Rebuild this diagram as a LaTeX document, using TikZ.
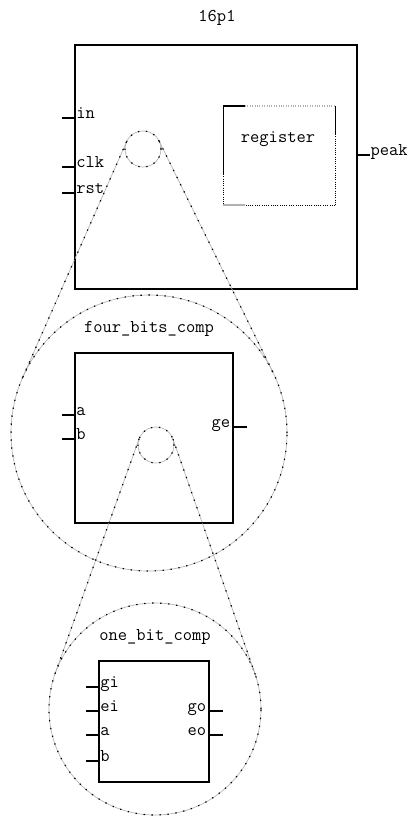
\documentclass[tikz,border=0pt]{standalone}
\usepackage{fontspec}
\begin{document}
\begin{tikzpicture}[x=0.75pt,y=-0.75pt,
  box/.style={draw=black,line width=1.5pt},
  stub/.style={draw=black,line width=1.5pt},
  lbl/.style={inner sep=0pt,font=\ttfamily\fontsize{13.5}{15}\selectfont},
  ttl/.style={inner sep=0pt,font=\ttfamily\fontsize{13.5}{15}\selectfont},
  zring/.style={circle,inner sep=0pt,outer sep=0pt,draw=gray!60,line width=0.5pt,
     postaction={draw=black,line width=0.9pt,dash pattern=on 1pt off 5pt}},
  zline/.style={draw=gray!60,line width=0.5pt,
     postaction={draw=black,line width=0.9pt,dash pattern=on 1pt off 5pt}}]
\useasboundingbox (0,0) rectangle (409,821);

% ---------- top level 16p1 ----------
\node[ttl] (t1) at (217,18) {16p1};
\draw[box] (75,45) rectangle (357,289);
\coordinate (pin) at (75,118);
\coordinate (pclk) at (75,167);
\coordinate (prst) at (75,193);
\coordinate (ppeak) at (357,155);
\draw[stub] (pin) -- ++(-13,0);
\draw[stub] (pclk) -- ++(-13,0);
\draw[stub] (prst) -- ++(-13,0);
\draw[stub] (ppeak) -- ++(13,0);
\node[lbl,anchor=base west] (lin) at ([xshift=0.75pt]pin) {in};
\node[lbl,anchor=base west] (lclk) at ([xshift=0.75pt]pclk) {clk};
\node[lbl,anchor=base west] (lrst) at ([xshift=0.75pt]prst) {rst};
\node[lbl,anchor=base west] (lpeak) at ([xshift=10pt]ppeak) {peak};

% register box (partly dotted)
\draw[black,line width=0.9pt] (223,106) -- (245,106);
\draw[gray!60,line width=0.8pt,densely dotted] (245,106) -- (335,106);
\draw[black,line width=0.7pt] (335,106) -- (335,134);
\draw[black,line width=0.7pt,densely dotted] (335,134) -- (335,205);
\draw[black,line width=0.7pt,densely dotted] (335,205) -- (245,205);
\draw[gray!60,line width=0.8pt] (245,205) -- (223,205);
\draw[black,line width=0.7pt] (223,106) -- (223,174);
\draw[black,line width=0.7pt,densely dotted] (223,174) -- (223,205);
\node[lbl] (reg) at (278,139) {register};

% ---------- zoom 1 ----------
\node[zring,minimum size=27pt] (s1) at (143,149) {};
\node[zring,minimum size=207pt] (b1) at (149,433) {};
\draw[zline] (s1.156) -- (b1.156);
\draw[zline] (s1.26) -- (b1.26);

% ---------- four_bits_comp ----------
\node[ttl] (t2) at (149,329) {four\_bits\_comp};
\draw[box] (75,353) rectangle (233,523);
\coordinate (pa) at (75,415);
\coordinate (pb) at (75,439);
\coordinate (pge) at (233,427);
\draw[stub] (pa) -- ++(-13,0);
\draw[stub] (pb) -- ++(-13,0);
\draw[stub] (pge) -- ++(14,0);
\node[lbl,anchor=base west] (la) at ([xshift=0.75pt]pa) {a};
\node[lbl,anchor=base west] (lb) at ([xshift=0.75pt]pb) {b};
\node[lbl,anchor=base east] (lge) at ([xshift=-2pt]pge) {ge};

% ---------- zoom 2 ----------
\node[zring,minimum size=27pt] (s2) at (156,445) {};
\node[zring,minimum size=159pt] (b2) at (155,709) {};
\draw[zline] (s2.160) -- (b2.160);
\draw[zline] (s2.19) -- (b2.19);

% ---------- one_bit_comp ----------
\node[ttl] (t3) at (155,637) {one\_bit\_comp};
\draw[box] (99,661) rectangle (209,782);
\coordinate (qgi) at (99,687);
\coordinate (qei) at (99,711);
\coordinate (qa) at (99,735);
\coordinate (qb) at (99,761);
\coordinate (qgo) at (209,711);
\coordinate (qeo) at (209,735);
\draw[stub] (qgi) -- ++(-13,0);
\draw[stub] (qei) -- ++(-13,0);
\draw[stub] (qa) -- ++(-13,0);
\draw[stub] (qb) -- ++(-13,0);
\draw[stub] (qgo) -- ++(14,0);
\draw[stub] (qeo) -- ++(14,0);
\node[lbl,anchor=base west] (lgi) at ([xshift=0.75pt]qgi) {gi};
\node[lbl,anchor=base west] (lei) at ([xshift=0.75pt]qei) {ei};
\node[lbl,anchor=base west] (lqa) at ([xshift=0.75pt]qa) {a};
\node[lbl,anchor=base west] (lqb) at ([xshift=0.75pt]qb) {b};
\node[lbl,anchor=base east] (lgo) at ([xshift=-2pt]qgo) {go};
\node[lbl,anchor=base east] (leo) at ([xshift=-2pt]qeo) {eo};
\end{tikzpicture}
\end{document}
